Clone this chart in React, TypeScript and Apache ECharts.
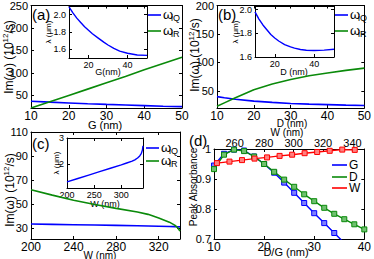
import React, { useEffect, useRef } from "react";
import * as echarts from "echarts";

// ---------- Panel (a) ----------
const aG = [10, 15, 20, 25, 30, 35, 40, 45, 50];
const aOmegaQ = [37, 35, 33.2, 31.5, 30, 28.6, 27.3, 26, 25];
const aOmegaR = [22, 36, 50, 64, 78, 92, 107, 121, 135];
const aTicksY = [50, 100, 150, 200, 250];
const mainTicksX = [10, 20, 30, 40, 50];
const aInsetG = [10, 12, 14, 16, 18, 20, 22, 25, 28, 30, 33, 36, 40, 45, 50];
const aInsetLambda = [2.09, 2.02, 1.96, 1.91, 1.86, 1.82, 1.78, 1.73, 1.68, 1.65, 1.61, 1.58, 1.555, 1.535, 1.53];
const insetTicksX = [20, 40];
const insetTicksY = [1.6, 1.8, 2.0];

// ---------- Panel (b) ----------
const bD = [10, 12, 15, 20, 25, 30, 35, 40, 45, 50];
const bOmegaQ = [40, 38, 35.5, 32, 29.8, 28, 26.8, 26, 25, 24.3];
const bOmegaR = [23, 29, 38, 52, 62, 70, 76.5, 81.5, 86, 90];
const bTicksY = [50, 100, 150, 200];
const bInsetD = [10, 12, 14, 16, 18, 20, 22, 25, 28, 30, 33, 36, 40, 45, 50];
const bInsetLambda = [1.98, 1.92, 1.87, 1.83, 1.79, 1.76, 1.735, 1.705, 1.685, 1.675, 1.663, 1.657, 1.655, 1.658, 1.665];

// ---------- Panel (c) ----------
const cW = [200, 220, 240, 260, 280, 300, 310, 320, 330, 335, 338, 340];
const cOmegaQ = [33.5, 33.2, 32.9, 32.6, 32.3, 32, 31.8, 31.6, 31.4, 31.3, 31.2, 31.1];
const cOmegaR = [62, 57.5, 53.3, 49.7, 46.5, 43.5, 41.5, 38.5, 35, 32.5, 30.2, 27.5];
const cTicksY = [30, 50, 70, 90, 110];
const cTicksX = [200, 240, 280, 320];
const cInsetW = [200, 220, 240, 260, 280, 300, 310, 320, 325, 330, 334, 337, 339, 340];
const cInsetLambda = [1.33, 1.46, 1.59, 1.72, 1.85, 1.98, 2.05, 2.12, 2.17, 2.24, 2.32, 2.42, 2.55, 2.7];
const cInsetTicksX = [200, 250, 300];
const cInsetTicksY = [2, 3];

// ---------- Panel (d) ----------
const dG = [10, 12, 14, 16, 18, 20, 22, 24, 26, 28, 30, 32, 34, 36];
const absG = [0.945, 0.984, 0.998, 0.995, 0.975, 0.95, 0.921, 0.888, 0.854, 0.82, 0.786, 0.753, 0.72, 0.687];
const dD = [10, 12, 14, 16, 18, 20, 22, 24, 26, 28, 30, 32, 34, 36, 38, 40];
const absD = [0.933, 0.981, 0.998, 0.993, 0.975, 0.95, 0.924, 0.898, 0.874, 0.849, 0.826, 0.804, 0.784, 0.766, 0.749, 0.732];
const dW = [248, 256.5, 265, 273.5, 282, 290.5, 299, 307.5, 316, 324.5, 333, 341.5];
const absW = [0.953, 0.958, 0.963, 0.968, 0.972, 0.977, 0.981, 0.986, 0.99, 0.994, 0.998, 0.997];
const dTicksY = [0.7, 0.8, 0.9, 1];
const dTicksX = [10, 20, 30, 40];
const dTicksW = [260, 280, 300, 320, 340];

const FONT = "Liberation Sans, Arial, sans-serif";
const BLUE = "#0000ff";
const GREEN = "#0a8a0a";
const RED = "#ff0000";

function axis(grid: number, position: string, min: number, max: number, ticks: number[], show: boolean, fontSize: number, margin: number, formatter?: any) {
  return {
    type: "value",
    gridIndex: grid,
    position,
    min,
    max,
    axisLine: { show: true, onZero: false, lineStyle: { color: "#000", width: 1 } },
    axisTick: { show: true, inside: true, length: 3, customValues: ticks, lineStyle: { color: "#000", width: 1 } },
    axisLabel: { show, customValues: ticks, fontSize, color: "#000", margin, fontFamily: FONT, formatter, hideOverlap: false },
    splitLine: { show: false },
  };
}

function lineSeries(xi: number, yi: number, xs: number[], ys: number[], color: string, width = 1.6) {
  return {
    type: "line",
    xAxisIndex: xi,
    yAxisIndex: yi,
    data: xs.map((x, i) => [x, ys[i]]),
    showSymbol: false,
    symbol: "none",
    smooth: false,
    clip: true,
    silent: true,
    lineStyle: { color, width },
    itemStyle: { color },
  };
}

function markSeries(xi: number, yi: number, xs: number[], ys: number[], color: string, fill: string) {
  return {
    type: "line",
    xAxisIndex: xi,
    yAxisIndex: yi,
    data: xs.map((x, i) => [x, ys[i]]),
    showSymbol: true,
    symbol: "rect",
    symbolSize: 5,
    clip: true,
    silent: true,
    lineStyle: { color, width: 1.4 },
    itemStyle: { color: fill, borderColor: color, borderWidth: 1 },
  };
}

function txt(text: string, x: number, y: number, size: number, align = "center", vAlign = "middle") {
  return {
    type: "text",
    x,
    y,
    silent: true,
    style: { text, font: `${size}px ${FONT}`, fill: "#000", align, verticalAlign: vAlign, textAlign: align, textVerticalAlign: vAlign },
  };
}

function vtxt(text: string, x: number, y: number, size: number) {
  return {
    type: "group",
    x,
    y,
    rotation: Math.PI / 2,
    silent: true,
    children: [txt(text, 0, 0, size)],
  };
}

function imName(x: number, y: number) {
  return {
    type: "group",
    x,
    y,
    rotation: Math.PI / 2,
    silent: true,
    children: [
      {
        type: "text",
        x: 0,
        y: 0,
        style: {
          text: "{n|Im(ω) (10}{s|12}{n|/s)}",
          align: "center",
          verticalAlign: "middle",
          textAlign: "center",
          textVerticalAlign: "middle",
          fill: "#000",
          rich: {
            n: { fontSize: 12, fontFamily: FONT, lineHeight: 14, verticalAlign: "bottom", fill: "#000" },
            s: { fontSize: 8, fontFamily: FONT, lineHeight: 8, verticalAlign: "top", fill: "#000" },
          },
        },
      },
    ],
  };
}

function legendOmega(x: number, y: number, color: string, sub: string) {
  return [
    { type: "line", silent: true, shape: { x1: x, y1: y, x2: x + 13, y2: y }, style: { stroke: color, lineWidth: 1.6 } },
    txt("ω", x + 15, y - 1, 13, "left"),
    txt(sub, x + 23, y + 3, 9, "left"),
  ];
}

function legendLetter(x: number, y: number, color: string, label: string) {
  return [
    { type: "line", silent: true, shape: { x1: x, y1: y, x2: x + 15, y2: y }, style: { stroke: color, lineWidth: 1.6 } },
    txt(label, x + 17, y, 12, "left"),
  ];
}

const fmt1 = (v: number) => v.toFixed(1);

const grids = [
  { left: 31, top: 4, width: 151, height: 104 }, // a
  { left: 217, top: 4, width: 151, height: 104 }, // b
  { left: 31, top: 132, width: 149, height: 107 }, // c
  { left: 214, top: 149, width: 152, height: 90 }, // d
  { left: 69, top: 6, width: 78, height: 52, show: true, backgroundColor: "#fff", borderWidth: 0 }, // inset a
  { left: 255, top: 6, width: 79, height: 51, show: true, backgroundColor: "#fff", borderWidth: 0 }, // inset b
  { left: 67, top: 138, width: 76, height: 50, show: true, backgroundColor: "#fff", borderWidth: 0 }, // inset c
].map((g) => ({ containLabel: false, ...g }));

const xAxes = [
  axis(0, "bottom", 10, 50, mainTicksX, true, 12, 2), // 0
  axis(0, "top", 10, 50, mainTicksX, false, 12, 2), // 1
  axis(1, "bottom", 10, 50, mainTicksX, true, 12, 2), // 2
  axis(1, "top", 10, 50, mainTicksX, false, 12, 2), // 3
  axis(2, "bottom", 200, 340, cTicksX, true, 12, 2), // 4
  axis(2, "top", 200, 340, cTicksX, false, 12, 2), // 5
  axis(3, "bottom", 10, 40, dTicksX, true, 12, 2), // 6
  axis(3, "top", 246, 348, dTicksW, true, 11, 1), // 7 (W)
  axis(4, "bottom", 10, 50, insetTicksX, true, 9, 2), // 8
  axis(4, "top", 10, 50, insetTicksX, false, 9, 2), // 9
  axis(5, "bottom", 10, 50, insetTicksX, true, 9, 2), // 10
  axis(5, "top", 10, 50, insetTicksX, false, 9, 2), // 11
  axis(6, "bottom", 200, 340, cInsetTicksX, true, 9, 2), // 12
  axis(6, "top", 200, 340, cInsetTicksX, false, 9, 2), // 13
];

const yAxes = [
  axis(0, "left", 22, 250, aTicksY, true, 11, 3), // 0
  axis(0, "right", 22, 250, aTicksY, false, 11, 3), // 1
  axis(1, "left", 20, 200, bTicksY, true, 11, 3), // 2
  axis(1, "right", 20, 200, bTicksY, false, 11, 3), // 3
  axis(2, "left", 21, 110, cTicksY, true, 11, 3), // 4
  axis(2, "right", 21, 110, cTicksY, false, 11, 3), // 5
  axis(3, "left", 0.7, 1, dTicksY, true, 11, 3), // 6
  axis(3, "right", 0.7, 1, dTicksY, false, 11, 3), // 7
  axis(4, "left", 1.5, 2.1, insetTicksY, true, 9, 3, fmt1), // 8
  axis(4, "right", 1.5, 2.1, insetTicksY, false, 9, 3), // 9
  axis(5, "left", 1.6, 2.03, insetTicksY, true, 9, 3, fmt1), // 10
  axis(5, "right", 1.6, 2.03, insetTicksY, false, 9, 3), // 11
  axis(6, "left", 1.1, 3, cInsetTicksY, true, 9, 3), // 12
  axis(6, "right", 1.1, 3, cInsetTicksY, false, 9, 3), // 13
];

const series = [
  lineSeries(0, 0, aG, aOmegaQ, BLUE),
  lineSeries(0, 0, aG, aOmegaR, GREEN),
  lineSeries(2, 2, bD, bOmegaQ, BLUE),
  lineSeries(2, 2, bD, bOmegaR, GREEN),
  lineSeries(4, 4, cW, cOmegaQ, BLUE),
  lineSeries(4, 4, cW, cOmegaR, GREEN),
  lineSeries(8, 8, aInsetG, aInsetLambda, BLUE, 1.4),
  lineSeries(10, 10, bInsetD, bInsetLambda, BLUE, 1.4),
  lineSeries(12, 12, cInsetW, cInsetLambda, BLUE, 1.4),
  markSeries(6, 6, dG, absG, BLUE, "#7f7fff"),
  markSeries(6, 6, dD, absD, GREEN, "#70c070"),
  markSeries(7, 6, dW, absW, RED, "#ff8080"),
];

const graphics: any[] = [
  txt("(a)", 32, 14, 15, "left"),
  txt("(b)", 218, 14, 15, "left"),
  txt("(c)", 32, 143, 15, "left"),
  txt("(d)", 189, 140, 15, "left"),
  imName(8, 57),
  imName(194, 55),
  imName(9, 190),
  vtxt("Peak Absorbance", 193, 187, 10),
  txt("G (nm)", 105, 125, 11),
  txt("D (nm)", 292, 123, 10),
  txt("W (nm)", 100, 255, 10),
  txt("D/G (nm)", 286, 252, 11),
  txt("W (nm)", 287, 132, 10),
  txt("G(nm)", 108, 72, 9),
  txt("D (nm)", 294, 72, 9),
  txt("W (nm)", 105, 204, 9),
  vtxt("λ (μm)", 48, 32, 8),
  vtxt("λ (μm)", 235, 32, 8),
  vtxt("λ (μm)", 56, 163, 8),
  ...legendOmega(148, 15, BLUE, "iQ"),
  ...legendOmega(148, 31, GREEN, "iR"),
  ...legendOmega(335, 15, BLUE, "iQ"),
  ...legendOmega(335, 31, GREEN, "iR"),
  ...legendOmega(146, 148, BLUE, "iQ"),
  ...legendOmega(146, 161, GREEN, "iR"),
  ...legendLetter(332, 165, BLUE, "G"),
  ...legendLetter(332, 177, GREEN, "D"),
  ...legendLetter(332, 188, RED, "W"),
];

const option: any = {
  animation: false,
  backgroundColor: "#fff",
  textStyle: { fontFamily: FONT },
  grid: grids,
  xAxis: xAxes,
  yAxis: yAxes,
  series,
  graphic: { elements: graphics },
};

export default function App() {
  const ref = useRef<HTMLDivElement>(null);
  useEffect(() => {
    const chart = echarts.init(ref.current as HTMLDivElement, null, { renderer: "svg" });
    chart.setOption(option);
    return () => chart.dispose();
  }, []);
  return <div ref={ref} style={{ position: "fixed", left: 0, top: 0, width: 374, height: 259, background: "#fff" }} />;
}
